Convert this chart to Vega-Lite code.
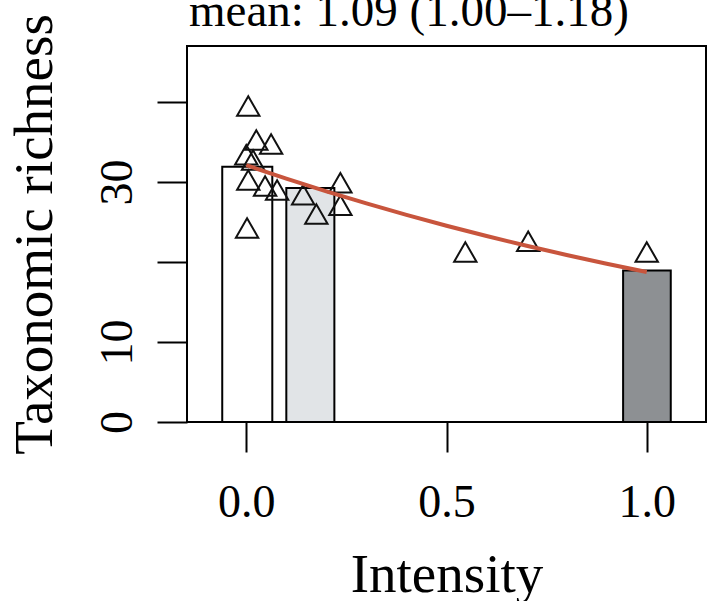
{
  "$schema": "https://vega.github.io/schema/vega-lite/v6.json",
  "autosize": {"type": "none"},
  "padding": {"left": 187, "top": 46, "right": 2, "bottom": 179},
  "width": 519,
  "height": 376,
  "background": "white",
  "title": {
    "text": "mean: 1.09 (1.00–1.18)",
    "anchor": "start",
    "frame": "group",
    "baseline": "alphabetic",
    "offset": 0,
    "dy": 59,
    "dx": 2,
    "font": "Liberation Serif",
    "fontSize": 47,
    "fontWeight": "normal",
    "color": "black"
  },
  "config": {
    "view": {"stroke": "black", "strokeWidth": 2},
    "axis": {
      "grid": false,
      "domain": false,
      "tickColor": "black",
      "tickWidth": 2,
      "tickSize": 30,
      "labelFont": "Liberation Serif",
      "labelFontSize": 46,
      "labelColor": "black",
      "titleFont": "Liberation Serif",
      "titleFontSize": 55,
      "titleFontWeight": "normal",
      "titleColor": "black"
    }
  },
  "datasets": {
    "bars": [
      {"lo": -0.06, "hi": 0.065, "rich": 31.9, "grp": "a"},
      {"lo": 0.1, "hi": 0.22, "rich": 29.25, "grp": "b"},
      {"lo": 0.941, "hi": 1.06, "rich": 18.94, "grp": "c"}
    ],
    "pts": [
      {"x": 0.005, "y": 39.5},
      {"x": 0.025, "y": 35.25},
      {"x": 0.062, "y": 34.75},
      {"x": 0.0, "y": 33.4},
      {"x": 0.017, "y": 32.75},
      {"x": 0.005, "y": 30.25},
      {"x": 0.047, "y": 29.5},
      {"x": 0.077, "y": 29.0},
      {"x": 0.002, "y": 24.25},
      {"x": 0.142, "y": 28.4},
      {"x": 0.175, "y": 26.0},
      {"x": 0.235, "y": 29.9},
      {"x": 0.235, "y": 27.1},
      {"x": 0.547, "y": 21.25},
      {"x": 0.704, "y": 22.6},
      {"x": 1.0, "y": 21.25}
    ],
    "fit": [
      {"x": 0.0, "y": 32.1},
      {"x": 0.1, "y": 30.42},
      {"x": 0.2, "y": 28.83},
      {"x": 0.3, "y": 27.32},
      {"x": 0.4, "y": 25.89},
      {"x": 0.5, "y": 24.53},
      {"x": 0.6, "y": 23.25},
      {"x": 0.7, "y": 22.03},
      {"x": 0.8, "y": 20.88},
      {"x": 0.9, "y": 19.78},
      {"x": 1.0, "y": 18.75}
    ]
  },
  "layer": [
    {
      "data": {"name": "bars"},
      "mark": {"type": "rect", "stroke": "black", "strokeWidth": 2},
      "encoding": {
        "x": {
          "field": "lo", "type": "quantitative",
          "scale": {"domain": [-0.148, 1.148], "nice": false, "zero": false},
          "axis": {"values": [0, 0.5, 1], "format": ".1f", "title": "Intensity", "labelPadding": 28, "labelBaseline": "top", "titlePadding": 23}
        },
        "x2": {"field": "hi"},
        "y": {
          "field": "rich", "type": "quantitative",
          "scale": {"domain": [0, 47], "nice": false},
          "axis": {
            "values": [0, 10, 20, 30, 40],
            "labelExpr": "datum.value == 20 || datum.value == 40 ? '' : datum.label",
            "labelAngle": -90,
            "labelAlign": "center",
            "labelBaseline": "alphabetic",
            "labelPadding": 26,
            "title": "Taxonomic richness",
            "titlePadding": 31
          }
        },
        "y2": {"datum": 0},
        "fill": {
          "field": "grp", "type": "nominal",
          "scale": {"domain": ["a", "b", "c"], "range": ["#ffffff", "#e1e4e7", "#8d9093"]},
          "legend": null
        }
      }
    },
    {
      "data": {"name": "pts"},
      "mark": {"type": "point", "shape": "triangle-up", "filled": false, "size": 500, "stroke": "#111111", "strokeWidth": 2, "opacity": 1},
      "encoding": {
        "x": {"field": "x", "type": "quantitative"},
        "y": {"field": "y", "type": "quantitative"}
      }
    },
    {
      "data": {"name": "fit"},
      "mark": {"type": "line", "color": "#c8553d", "strokeWidth": 4, "interpolate": "monotone"},
      "encoding": {
        "x": {"field": "x", "type": "quantitative"},
        "y": {"field": "y", "type": "quantitative"}
      }
    }
  ]
}
